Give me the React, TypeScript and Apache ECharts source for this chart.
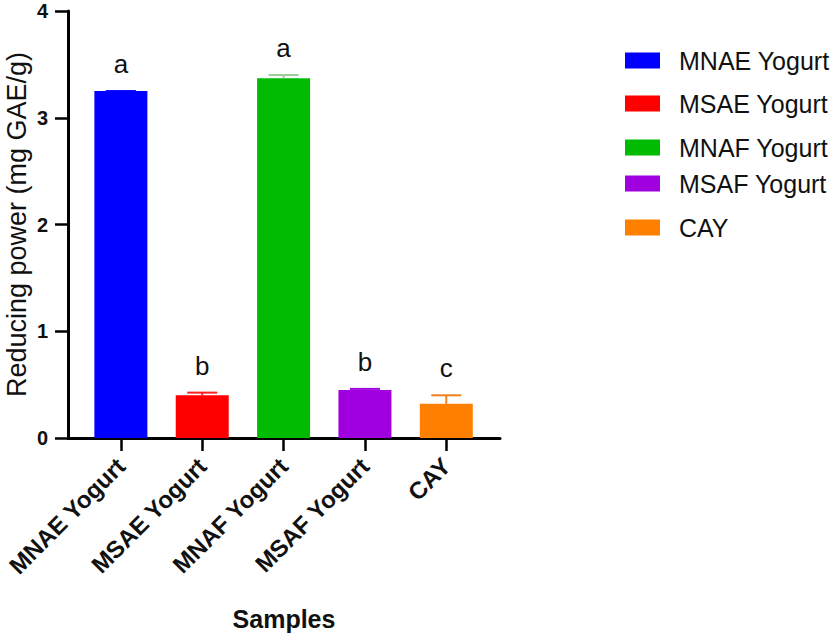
import React, { useEffect, useRef } from "react";
import * as echarts from "echarts";

const samples = ["MNAE Yogurt", "MSAE Yogurt", "MNAF Yogurt", "MSAF Yogurt", "CAY"];
const means = [3.25, 0.4, 3.37, 0.45, 0.32];
const errors = [0, 0.025, 0.03, 0.01, 0.08];
const letters = ["a", "b", "a", "b", "c"];
const yTicks = [0, 1, 2, 3, 4];

const barColors = ["#0000FF", "#FF0000", "#00BB00", "#A000E0", "#FF8000"];
const errColors = ["#0000FF", "#FF2020", "#9CCC9C", "#A000E0", "#F08020"];
const legendTops = [48, 91, 135, 171, 215];
const FONT = "'Liberation Sans', Arial, Helvetica, sans-serif";

export default function App() {
  const ref = useRef<HTMLDivElement>(null);
  useEffect(() => {
    if (!ref.current) return;
    const chart = echarts.init(ref.current, null, { renderer: "svg" });
    const idx = samples.map((_, i) => i);
    const barSeries = samples.map((name, i) => ({
      type: "bar",
      name,
      data: [[i, means[i]]],
      barWidth: 53,
      barGap: "-100%",
      itemStyle: { color: barColors[i] },
      z: 2,
    }));
    const errSeries = {
      type: "custom",
      name: "err",
      data: idx.map((i) => [i, means[i], errors[i]]),
      z: 3,
      renderItem: (params: any, api: any) => {
        const i = params.dataIndex;
        const x = api.value(0);
        const m = api.value(1);
        const e = api.value(2);
        const p1 = api.coord([x, m]);
        const p2 = api.coord([x, m + e]);
        const col = errColors[i];
        return {
          type: "group",
          children: [
            {
              type: "line",
              shape: { x1: p1[0], y1: p1[1], x2: p2[0], y2: p2[1] },
              style: { stroke: col, lineWidth: 2 },
            },
            {
              type: "line",
              shape: { x1: p2[0] - 15, y1: p2[1], x2: p2[0] + 15, y2: p2[1] },
              style: { stroke: col, lineWidth: 2 },
            },
            {
              type: "text",
              x: p2[0],
              y: p2[1] - 27,
              style: {
                text: letters[i],
                fill: "#111",
                font: `26px ${FONT}`,
                align: "center",
                verticalAlign: "middle",
              },
            },
          ],
        };
      },
    };
    const legends = samples.map((name, i) => ({
      data: [name],
      left: 625,
      top: legendTops[i],
      orient: "vertical",
      padding: 0,
      itemWidth: 35,
      itemHeight: 16,
      icon: "rect",
      selectedMode: false,
      textStyle: {
        fontFamily: FONT,
        fontSize: 25,
        color: "#111",
        padding: [0, 0, 0, 14],
        lineHeight: 24,
      },
    }));
    chart.setOption({
      animation: false,
      backgroundColor: "#fff",
      textStyle: { fontFamily: FONT },
      legend: legends,
      grid: {
        left: 68,
        right: 339,
        top: 11,
        bottom: 197,
        containLabel: false,
        outerBoundsMode: "none",
      },
      xAxis: {
        type: "value",
        min: -0.65,
        max: 4.66,
        name: "Samples",
        nameLocation: "middle",
        nameGap: 168,
        nameMoveOverlap: false,
        nameTextStyle: { fontFamily: FONT, fontSize: 25, fontWeight: "bold", color: "#111" },
        splitLine: { show: false },
        axisLine: { show: true, onZero: false, lineStyle: { color: "#000", width: 3 } },
        axisTick: {
          show: true,
          customValues: idx,
          length: 13,
          lineStyle: { color: "#000", width: 2.5 },
        },
        axisLabel: {
          show: true,
          customValues: idx,
          rotate: 45,
          margin: 24,
          formatter: (v: number) => samples[Math.round(v)] ?? "",
          fontFamily: FONT,
          fontSize: 24,
          fontWeight: "bold",
          color: "#111",
        },
      },
      yAxis: {
        type: "value",
        min: 0,
        max: 4,
        interval: 1,
        name: "Reducing power (mg GAE/g)",
        nameLocation: "middle",
        nameGap: 38,
        nameMoveOverlap: false,
        nameTextStyle: { fontFamily: FONT, fontSize: 27, color: "#111" },
        splitLine: { show: false },
        axisLine: { show: true, onZero: false, lineStyle: { color: "#000", width: 3 } },
        axisTick: { show: true, length: 13, lineStyle: { color: "#000", width: 2.5 } },
        axisLabel: {
          margin: 20,
          fontFamily: FONT,
          fontSize: 20,
          fontWeight: "bold",
          color: "#111",
          formatter: (v: number) => (yTicks.includes(v) ? String(v) : ""),
        },
      },
      series: [...barSeries, errSeries],
    });
    return () => chart.dispose();
  }, []);
  return (
    <div
      ref={ref}
      style={{ position: "fixed", left: 0, top: 0, width: 839, height: 635, background: "#fff" }}
    />
  );
}
